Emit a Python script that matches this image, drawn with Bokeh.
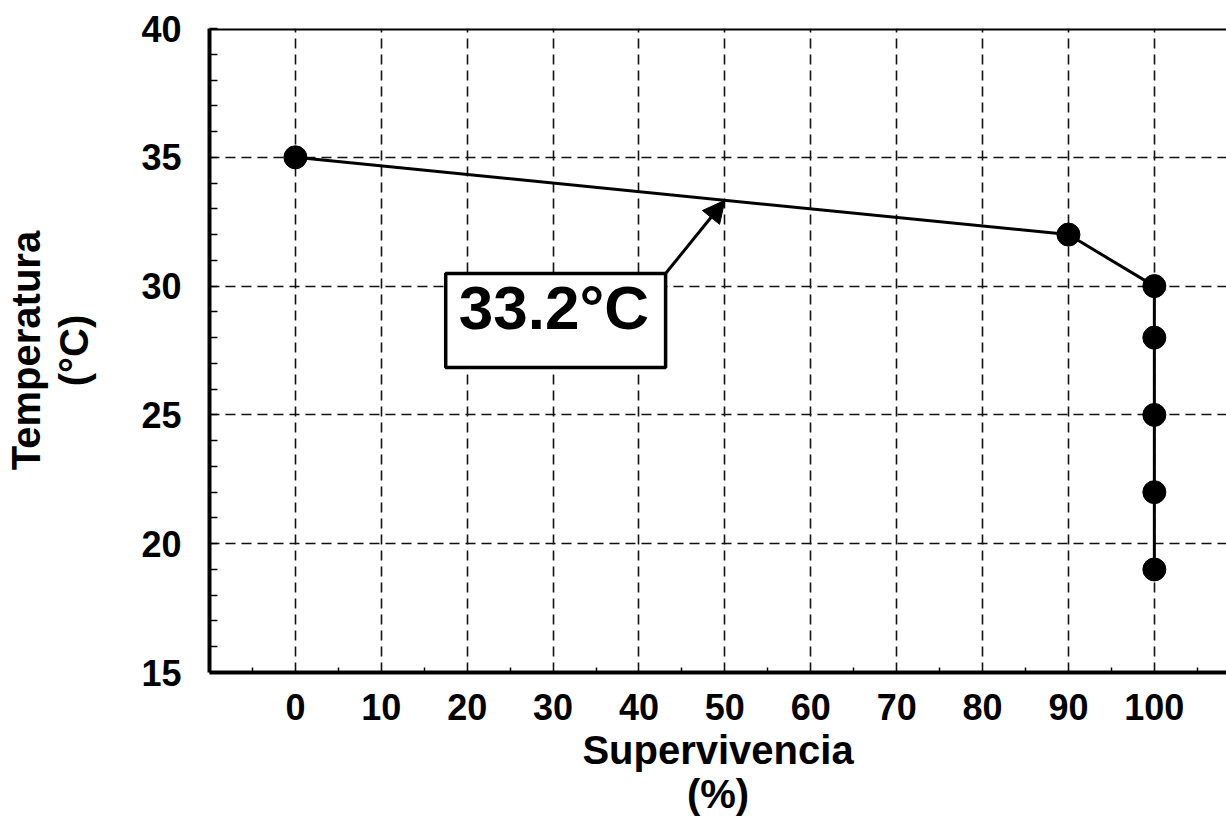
from bokeh.plotting import figure
from bokeh.models import (FixedTicker, Span, BoxAnnotation, Label, Arrow, NormalHead, Range1d)
from bokeh.embed import file_html
from bokeh.resources import INLINE

# Data
survival = [0, 90, 100, 100, 100, 100, 100]
temperature = [35, 32, 30, 28, 25, 22, 19]
x_ticks = [0, 10, 20, 30, 40, 50, 60, 70, 80, 90, 100]
y_ticks = [15, 20, 25, 30, 35, 40]
annot_text = "33.2°C"
annot_target = (50, 33.33)

FONT = "Liberation Sans"

p = figure(width=1226, height=818, output_backend="svg", toolbar_location=None,
           x_range=Range1d(-10, 108.4), y_range=Range1d(15, 40),
           min_border_left=209, min_border_right=0, min_border_top=28, min_border_bottom=146)
p.outline_line_color = None
p.background_fill_color = "white"
p.border_fill_color = "white"

# axes
p.xaxis.ticker = FixedTicker(ticks=x_ticks, minor_ticks=[x + 5 for x in range(-10, 110, 10)])
p.yaxis.ticker = FixedTicker(ticks=y_ticks, minor_ticks=list(range(15, 41)))
for ax in (p.xaxis[0], p.yaxis[0]):
    ax.axis_line_width = 4
    ax.axis_line_color = "black"
    ax.major_tick_in = 0
    ax.major_tick_out = 0
    ax.minor_tick_out = 0
    ax.minor_tick_line_color = "black"
    ax.minor_tick_line_width = 1.5
    ax.major_label_text_font = FONT
    ax.major_label_text_font_style = "bold"
    ax.major_label_text_font_size = "36px"
    ax.major_label_text_color = "black"
    ax.axis_label_text_font = FONT
    ax.axis_label_text_font_style = "bold"
    ax.axis_label_text_font_size = "40px"
    ax.axis_label_text_line_height = 1.0
    ax.axis_label_text_color = "black"
p.yaxis.axis_label_text_line_height = 1.1
p.xaxis.minor_tick_in = 5
p.yaxis.minor_tick_in = 8
p.xaxis.major_label_standoff = 21
p.yaxis.major_label_standoff = 28
p.xaxis.axis_label = "Supervivencia\n(%)"
p.yaxis.axis_label = "Temperatura\n(°C)"
p.xaxis.axis_label_standoff = 5
p.yaxis.axis_label_standoff = 42

# grid
for g in (p.xgrid[0], p.ygrid[0]):
    g.grid_line_color = "#111111"
    g.grid_line_width = 1.6
    g.grid_line_dash = "10 6"

# top border
p.add_layout(Span(location=40, dimension="width", line_color="black", line_width=4))

# data
p.line(survival, temperature, line_color="black", line_width=3)
p.scatter(survival, temperature, size=23, fill_color="black", line_color="black")

# annotation box
p.add_layout(BoxAnnotation(left=17.5, right=43.1, bottom=26.84, top=30.49,
                           fill_color="white", fill_alpha=1, line_color="black", line_alpha=1,
                           line_width=3.5, level="annotation"))
p.add_layout(Label(x=30.1, y=29.15, text=annot_text, text_align="center", text_baseline="alphabetic",
                   text_font=FONT, text_font_style="bold", text_font_size="62px", text_color="black",
                   level="annotation"))
p.add_layout(Arrow(x_start=43.1, y_start=30.49, x_end=annot_target[0], y_end=annot_target[1],
                   line_color="black", line_width=3,
                   end=NormalHead(size=22, fill_color="black", line_color="black")))

open("out.html", "w").write(file_html(p, INLINE))
